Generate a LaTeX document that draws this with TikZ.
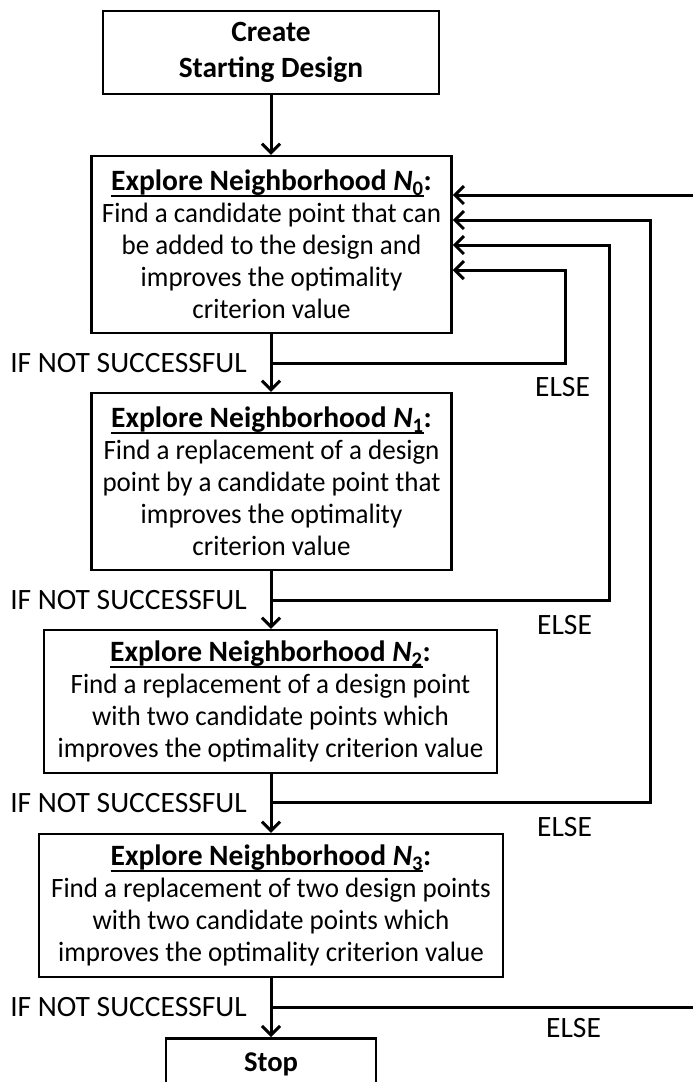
\documentclass[tikz,border=0pt]{standalone}
\usepackage{fontspec}
\setmainfont{Carlito}
\newfontfamily\bodyfont{Carlito}[FakeStretch=0.965]
\usetikzlibrary{arrows.meta}
\newsavebox\ulbox
\newcommand{\thickul}[1]{\leavevmode\sbox\ulbox{#1}\rlap{\rule[-6pt]{\wd\ulbox}{2pt}}\usebox\ulbox}
\newcommand{\nbh}[1]{{\rmfamily\fontsize{29.5}{32}\selectfont\bfseries\thickul{Explore Neighborhood \textit{N}\textsubscript{#1}}:}}
\begin{document}
\begin{tikzpicture}[x=1pt,y=-1pt,
  box/.style={draw, line width=2.5pt, align=center, inner sep=0pt, font=\bodyfont\fontsize{28}{32}\selectfont},
  lbl/.style={inner sep=0pt, font=\fontsize{29.5}{32}\selectfont},
  conn/.style={line width=3pt},
  arr/.style={conn, -{Straight Barb[length=9pt,width=18pt,line width=3pt]}},
]
\useasboundingbox (0,0) rectangle (693,1082);
\node[box, minimum width=336pt, minimum height=83pt, font=\rmfamily\bfseries\fontsize{29.4}{36}\selectfont] (start) at (271,52.5) {Create\\Starting Design};
\node[box, minimum width=360pt, minimum height=177pt] (n0) at (271.5,244.5) {\nbh{0}\\Find a candidate point that can\\be added to the design and\\improves the optimality\\criterion value};
\node[box, minimum width=360pt, minimum height=177pt] (n1) at (271.5,481.5) {\nbh{1}\\Find a replacement of a design\\point by a candidate point that\\improves the optimality\\criterion value};
\node[box, minimum width=453pt, minimum height=143pt] (n2) at (270.5,701.5) {\nbh{2}\\Find a replacement of a design point\\with two candidate points which\\improves the optimality criterion value};
\node[box, minimum width=464pt, minimum height=143pt] (n3) at (271,905.5) {\nbh{3}\\Find a replacement of two design points\\with two candidate points which\\improves the optimality criterion value};
\node[box, minimum width=210pt, minimum height=52pt, anchor=north, font=\rmfamily\bfseries\fontsize{28.6}{32}\selectfont] (stop) at (271,1037) {Stop};

\coordinate (b0) at (271,363);
\coordinate (b1) at (271,600);
\coordinate (b2) at (271,802);
\coordinate (b3) at (271,1007);
\coordinate (r0) at (565,270);
\coordinate (r1) at (609,245);
\coordinate (r2) at (650,220);
\coordinate (r3) at (705,195);

\draw[arr] (start.south) -- (n0.north -| start.south);
\draw[arr] (n0.south -| start.south) -- (n1.north -| start.south);
\draw[arr] (n1.south -| start.south) -- (n2.north -| start.south);
\draw[arr] (n2.south -| start.south) -- (n3.north -| start.south);
\draw[arr] (n3.south -| start.south) -- (stop.north);

\draw[arr] (b0) -| (r0) -- (n0.east |- r0);
\draw[arr] (b1) -| (r1) -- (n0.east |- r1);
\draw[arr] (b2) -| (r2) -- (n0.east |- r2);
\draw[arr] (b3) -| (r3) -- (n0.east |- r3);

\node[lbl, anchor=east] (ns0) at (247,363) {IF NOT SUCCESSFUL};
\node[lbl, anchor=east] (ns1) at (247,600) {IF NOT SUCCESSFUL};
\node[lbl, anchor=east] (ns2) at (247,803) {IF NOT SUCCESSFUL};
\node[lbl, anchor=east] (ns3) at (247,1007) {IF NOT SUCCESSFUL};
\node[lbl, anchor=west] (el0) at (535,387) {ELSE};
\node[lbl, anchor=west] (el1) at (537,625) {ELSE};
\node[lbl, anchor=west] (el2) at (537,827) {ELSE};
\node[lbl, anchor=west] (el3) at (546,1028) {ELSE};
\end{tikzpicture}
\end{document}
